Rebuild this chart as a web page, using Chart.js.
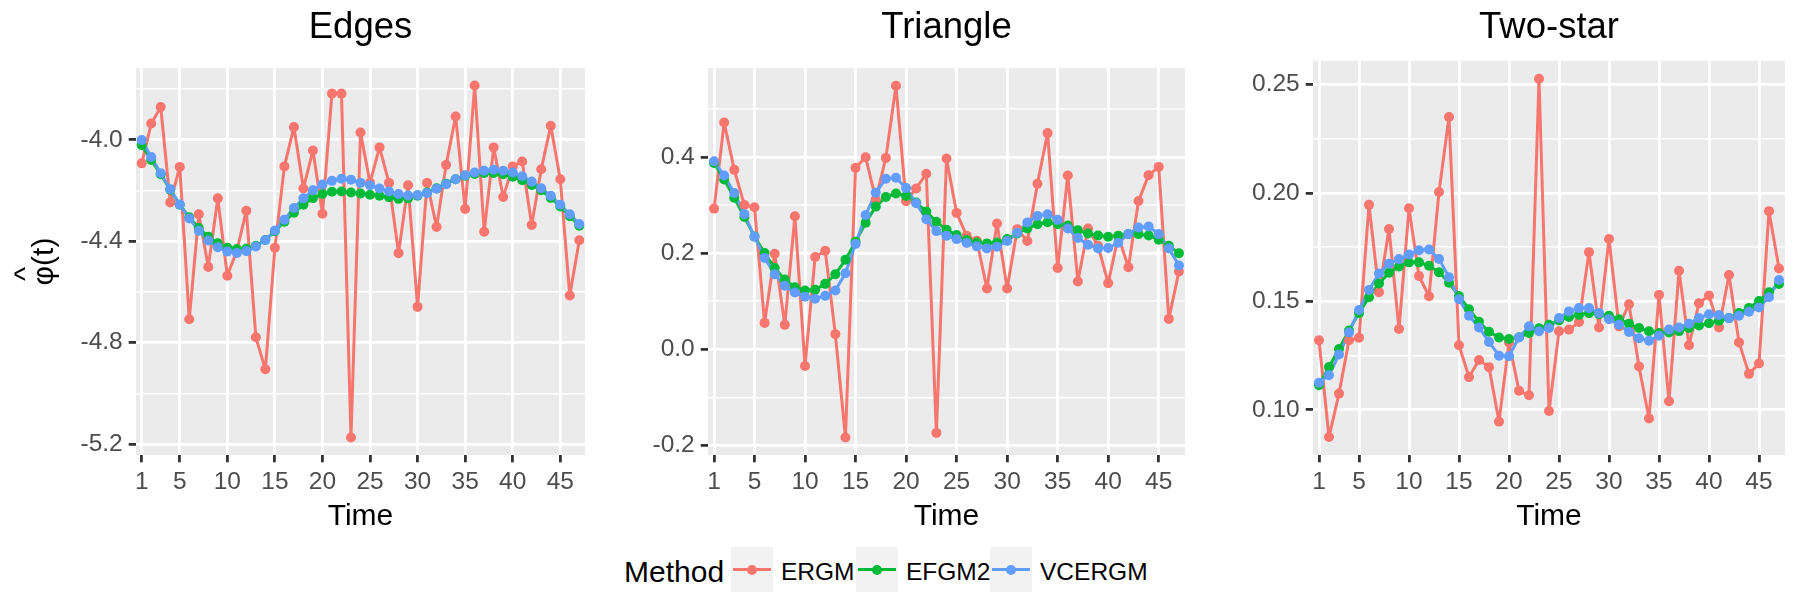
<!DOCTYPE html>
<html>
<head>
<meta charset="utf-8">
<script src="https://cdn.jsdelivr.net/npm/chart.js@4.4.1/dist/chart.umd.min.js"></script>
<style>
  body { margin: 0; background: #fff; font-family: 'Liberation Sans', Arial, sans-serif; }
  #wrap { position: relative; width: 1800px; height: 600px; overflow: hidden; }
  .panel { position: absolute; top: 0; width: 600px; height: 540px; }
  .lg { position: absolute; top: 549px; height: 45px; line-height: 45px; color: #000; }
  .key { position: absolute; top: 547px; width: 42px; height: 45px; background: #F2F2F2; }
  .key .ln { position: absolute; left: 2px; right: 2px; top: 21px; height: 3px; }
  .key .pt { position: absolute; left: 16px; top: 17.5px; width: 10px; height: 10px; border-radius: 50%; }
</style>
</head>
<body>
<div id="wrap">
  <div class="panel" style="left:0"><canvas id="edges" width="600" height="540"></canvas></div>
  <div class="panel" style="left:600px"><canvas id="triangle" width="600" height="540"></canvas></div>
  <div class="panel" style="left:1200px"><canvas id="twostar" width="600" height="540"></canvas></div>
  <div id="legend"></div>
</div>
<script>
// time points
const time = [1,2,3,4,5,6,7,8,9,10,11,12,13,14,15,16,17,18,19,20,21,22,23,24,25,26,27,28,29,30,
  31,32,33,34,35,36,37,38,39,40,41,42,43,44,45,46,47];
const xTicks = [1,5,10,15,20,25,30,35,40,45];

const methods = ['ERGM', 'EFGM2', 'VCERGM'];
const colors = ['#F8766D', '#00BA38', '#619CFF'];

// Edges
const ergmEdges = [-4.093,-3.936,-3.871,-4.247,-4.107,-4.708,-4.294,-4.502,-4.231,-4.536,
  -4.437,-4.280,-4.779,-4.905,-4.426,-4.105,-3.950,-4.192,-4.042,-4.292,
  -3.818,-3.818,-5.174,-3.971,-4.169,-4.030,-4.170,-4.447,-4.179,-4.659,
  -4.170,-4.344,-4.099,-3.908,-4.273,-3.786,-4.363,-4.030,-4.226,-4.105,
  -4.086,-4.336,-4.116,-3.945,-4.156,-4.614,-4.396];
const efgmEdges = [-4.021,-4.080,-4.136,-4.197,-4.256,-4.306,-4.348,-4.382,-4.408,-4.426,
  -4.431,-4.430,-4.418,-4.395,-4.361,-4.323,-4.288,-4.256,-4.230,-4.214,
  -4.205,-4.204,-4.208,-4.212,-4.217,-4.221,-4.227,-4.233,-4.231,-4.221,
  -4.208,-4.191,-4.173,-4.156,-4.142,-4.135,-4.131,-4.131,-4.136,-4.146,
  -4.159,-4.178,-4.199,-4.229,-4.263,-4.301,-4.339];
const vcEdges = [-4.001,-4.068,-4.132,-4.195,-4.255,-4.310,-4.359,-4.397,-4.424,-4.441,
  -4.446,-4.439,-4.421,-4.395,-4.358,-4.315,-4.269,-4.231,-4.199,-4.176,
  -4.162,-4.154,-4.158,-4.170,-4.179,-4.192,-4.204,-4.214,-4.220,-4.218,
  -4.210,-4.193,-4.175,-4.156,-4.140,-4.129,-4.122,-4.118,-4.122,-4.129,
  -4.144,-4.165,-4.191,-4.221,-4.256,-4.294,-4.332];
const edgesMajor = [-5.2,-4.8,-4.4,-4.0];
const edgesMinor = [-5.0,-4.6,-4.2,-3.8];

// Triangle
const ergmTri = [0.2925,0.4717,0.3731,0.300,0.2952,0.0548,0.1986,0.0507,0.2767,-0.0347,
  0.1919,0.205,0.0314,-0.1835,0.3773,0.3993,0.312,0.398,0.548,0.308,
  0.3345,0.365,-0.174,0.3966,0.2836,0.236,0.2257,0.1265,0.2615,0.1265,
  0.2498,0.225,0.344,0.4496,0.169,0.3614,0.141,0.251,0.215,0.1375,
  0.235,0.1706,0.3084,0.3621,0.3793,0.0631,0.1616];
const efgmTri = [0.3876,0.353,0.315,0.275,0.2347,0.200,0.169,0.145,0.129,0.122,
  0.1237,0.136,0.156,0.186,0.2236,0.263,0.2967,0.3166,0.324,0.3187,
  0.305,0.2863,0.265,0.2484,0.2374,0.2271,0.2222,0.2202,0.2222,0.2291,
  0.2408,0.2512,0.260,0.2643,0.260,0.2574,0.2477,0.2409,0.2367,0.234,
  0.236,0.2395,0.2395,0.2367,0.2278,0.2154,0.1995];
const vcTri = [0.391,0.3614,0.325,0.281,0.234,0.190,0.156,0.132,0.118,0.109,
  0.105,0.111,0.122,0.158,0.219,0.2794,0.3256,0.3545,0.3566,0.3352,
  0.3035,0.2705,0.2457,0.236,0.2291,0.2209,0.214,0.2098,0.2133,0.225,
  0.2422,0.2636,0.2774,0.2808,0.2691,0.2512,0.2312,0.2174,0.2098,0.2105,
  0.2216,0.2395,0.2533,0.2553,0.2395,0.2098,0.174];
const triMajor = [-0.2,0.0,0.2,0.4];
const triMinor = [-0.1,0.1,0.3,0.5];

// Two-star
const ergmStar = [0.1321,0.0875,0.1075,0.1321,0.1333,0.1945,0.1542,0.1834,0.1373,0.1929,
  0.1617,0.1524,0.2004,0.235,0.1298,0.1151,0.123,0.1197,0.0946,0.1311,
  0.1088,0.1067,0.2526,0.0995,0.1362,0.137,0.1405,0.1727,0.138,0.1788,
  0.1385,0.1487,0.120,0.096,0.153,0.104,0.1641,0.1298,0.1492,0.1527,
  0.138,0.1622,0.1311,0.1166,0.1214,0.1916,0.1652];
const efgmStar = [0.1114,0.1198,0.1281,0.1366,0.1446,0.1519,0.1583,0.1632,0.1661,0.168,
  0.168,0.1664,0.1634,0.1586,0.1525,0.1464,0.1406,0.136,0.1334,0.1327,
  0.1335,0.1354,0.1376,0.1392,0.1412,0.1428,0.1438,0.1446,0.1441,0.1434,
  0.1418,0.1397,0.1377,0.1362,0.1354,0.1357,0.1363,0.1377,0.1389,0.1399,
  0.1411,0.1423,0.1446,0.147,0.1502,0.1542,0.158];
const vcStar = [0.1125,0.116,0.1255,0.1357,0.146,0.1553,0.1629,0.1674,0.1695,0.1716,
  0.1736,0.1739,0.1696,0.1611,0.151,0.1434,0.138,0.1313,0.125,0.1247,
  0.1334,0.1385,0.1362,0.1377,0.1423,0.1454,0.1469,0.1469,0.1446,0.1418,
  0.1392,0.1359,0.133,0.1319,0.1342,0.137,0.138,0.1397,0.1423,0.1441,
  0.1437,0.1423,0.1434,0.1452,0.1472,0.1519,0.1599];
const starMajor = [0.10,0.15,0.20,0.25];
const starMinor = [0.125,0.175,0.225];

Chart.defaults.font.family = "'Liberation Sans', Arial, sans-serif";
Chart.defaults.animation = false;

// grey panel background like ggplot
const panelBg = {
  id: 'panelBg',
  beforeDraw(chart) {
    const a = chart.chartArea, ctx = chart.ctx;
    ctx.save();
    ctx.fillStyle = '#EBEBEB';
    ctx.fillRect(a.left, a.top, a.right - a.left, a.bottom - a.top);
    ctx.restore();
  }
};

function makePanel(id, title, series, yMin, yMax, major, minor, digits, yWidth, titleBottom, yTitle) {
  const pts = vals => time.map((t, i) => ({ x: t, y: vals[i] }));
  const datasets = [];
  // lines below all points
  series.forEach((s, i) => datasets.push({
    label: methods[i], data: pts(s), borderColor: colors[i], borderWidth: 3,
    borderJoinStyle: 'round', pointRadius: 0, pointHoverRadius: 0, order: 6 - i
  }));
  series.forEach((s, i) => datasets.push({
    label: methods[i], data: pts(s), showLine: false, backgroundColor: colors[i],
    pointBackgroundColor: colors[i], pointBorderWidth: 0, pointRadius: 5, order: 3 - i
  }));
  const yAll = major.concat(minor).sort((a, b) => a - b);
  const isMajor = v => major.includes(v);
  return new Chart(document.getElementById(id), {
    type: 'line',
    data: { datasets },
    plugins: [panelBg],
    options: {
      responsive: false,
      layout: { padding: { left: 0, right: 15, top: 0, bottom: 0 } },
      plugins: {
        legend: { display: false },
        tooltip: { enabled: false },
        title: {
          display: true, text: title, fullSize: false, color: '#000',
          font: { size: 36.5, weight: 'normal' }, padding: { top: 6.5, bottom: titleBottom }
        }
      },
      scales: {
        x: {
          type: 'linear', min: 0.4, max: 47.6,
          afterBuildTicks: s => { s.ticks = xTicks.map(v => ({ value: v })); },
          afterFit: s => { s.height = 85; },
          ticks: { autoSkip: false, maxRotation: 0, color: '#4D4D4D', font: { size: 24.5 }, padding: 5,
                   callback: v => String(v) },
          grid: { color: '#FFFFFF', lineWidth: 2.8, tickColor: '#333333', tickLength: 7.3, tickWidth: 2.8 },
          border: { display: false },
          title: { display: true, text: 'Time', color: '#000', font: { size: 30 }, padding: { top: 0, bottom: 5 } }
        },
        y: {
          type: 'linear', min: yMin, max: yMax,
          afterBuildTicks: s => { s.ticks = yAll.map(v => ({ value: v })); },
          afterFit: s => { s.width = yWidth; },
          ticks: { autoSkip: false, color: '#4D4D4D', font: { size: 24.5 }, padding: 6,
                   callback: v => isMajor(v) ? v.toFixed(digits) : '' },
          grid: {
            color: '#FFFFFF',
            lineWidth: c => isMajor(c.tick.value) ? 2.8 : 1.4,
            tickColor: c => isMajor(c.tick.value) ? '#333333' : 'rgba(0,0,0,0)',
            tickLength: 7.3, tickWidth: 2.8
          },
          border: { display: false },
          title: { display: !!yTitle, text: yTitle || '', color: '#000',
                   font: { size: 30, lineHeight: 0.6 }, padding: { top: 18, bottom: 0 } }
        }
      }
    }
  });
}

// hat drawn as its own line above phi, as in the plotmath label
makePanel('edges', 'Edges', [ergmEdges, efgmEdges, vcEdges], -5.243, -3.717,
  edgesMajor, edgesMinor, 1, 136, 17.7, ['^   ', '\u03C6(t)']);
makePanel('triangle', 'Triangle', [ergmTri, efgmTri, vcTri], -0.220, 0.585,
  triMajor, triMinor, 1, 108, 17.7, null);
makePanel('twostar', 'Two-star', [ergmStar, efgmStar, vcStar], 0.0792, 0.2609,
  starMajor, starMinor, 2, 113, 10.5, null);

// legend
const lg = document.getElementById('legend');
const keyLeft = [731, 856, 990];
const labelLeft = [781, 906, 1040];
lg.insertAdjacentHTML('beforeend', '<div class="lg" style="left:624px;font-size:30px">Method</div>');
methods.forEach((m, i) => {
  lg.insertAdjacentHTML('beforeend',
    '<div class="key" style="left:' + keyLeft[i] + 'px"><div class="ln" style="background:' + colors[i] +
    '"></div><div class="pt" style="background:' + colors[i] + '"></div></div>' +
    '<div class="lg" style="left:' + labelLeft[i] + 'px;font-size:24.5px">' + m + '</div>');
});
</script>
</body>
</html>
